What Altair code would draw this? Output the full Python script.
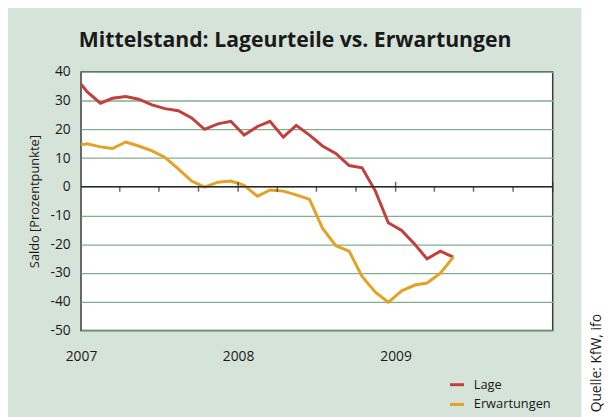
import altair as alt
import pandas as pd

# ---- data ----
months = ["2006-12", "2007-01", "2007-02", "2007-03", "2007-04", "2007-05", "2007-06",
          "2007-07", "2007-08", "2007-09", "2007-10", "2007-11", "2007-12",
          "2008-01", "2008-02", "2008-03", "2008-04", "2008-05", "2008-06",
          "2008-07", "2008-08", "2008-09", "2008-10", "2008-11", "2008-12",
          "2009-01", "2009-02", "2009-03", "2009-04", "2009-05"]
lage = [38.9, 33.1, 29.1, 30.8, 31.4, 30.5, 28.5, 27.2, 26.5, 24.0, 20.0, 21.9, 22.8,
        18.0, 21.0, 22.8, 17.3, 21.4, 18.0, 14.2, 11.6, 7.4, 6.6, -1.5, -12.5,
        -15.2, -20.1, -25.1, -22.4, -24.5]
erwartungen = [14.2, 15.0, 13.9, 13.3, 15.6, 14.2, 12.5, 10.2, 6.2, 2.0, -0.1, 1.6, 2.0,
               0.5, -3.3, -1.1, -1.5, -2.8, -4.4, -14.4, -20.5, -22.4, -31.2, -36.7, -40.2,
               -36.2, -34.2, -33.5, -30.1, -24.5]
series_names = ["Lage", "Erwartungen"]
series_colors = ["#c23f3c", "#e4a224"]
year_labels = [2007, 2008, 2009]
minor_ticks = ["2007-04-01", "2007-07-01", "2007-10-01", "2008-04-01", "2008-07-01",
               "2008-10-01", "2009-04-01", "2009-07-01", "2009-10-01"]
major_ticks = ["2008-01-01", "2009-01-01", "2010-01-01"]
y_ticks = [-50, -40, -30, -20, -10, 0, 10, 20, 30, 40]
title_text = "Mittelstand: Lageurteile vs. Erwartungen"
source_text = "Quelle: KfW, ifo"

FONT = "Open Sans"
BG = "#d6e3d9"
TXT = "#1a1a1a"

dates = [m + "-15T00:00" for m in months]
df_lage = pd.DataFrame({"date": dates, "value": lage, "series": "Lage"})
df_erw = pd.DataFrame({"date": dates, "value": erwartungen, "series": "Erwartungen"})
df_minor = pd.DataFrame({"date": [d + "T00:00" for d in minor_ticks], "value": 0})
df_major = pd.DataFrame({"date": [d + "T00:00" for d in major_ticks], "value": 0})
df_zero = pd.DataFrame({"date": ["2008-01-01T00:00"], "value": [0]})

x_scale = alt.Scale(domain=[alt.DateTime(year=2007, month=1, date=1),
                            alt.DateTime(year=2010, month=1, date=1)])
y_scale = alt.Scale(domain=[-50, 40], nice=False)

x_axis = alt.Axis(values=[alt.DateTime(year=y, month=1, date=1) for y in year_labels],
                  format="%Y", ticks=False, domain=False, grid=False,
                  labelPadding=19, labelFontSize=14, labelColor=TXT,
                  labelFont=FONT, title=None, labelFlush=False)
y_axis = alt.Axis(values=y_ticks, ticks=False, domain=False, grid=True,
                  gridColor="#80af8e", gridWidth=1.3,
                  labelFontSize=14, labelFont=FONT, labelColor=TXT,
                  labelPadding=11, labelOverlap=False,
                  labelExpr="toString(datum.value)",
                  title="Saldo [Prozentpunkte]", titleFont=FONT,
                  titleFontSize=13, titleFontWeight="normal",
                  titleColor=TXT, titlePadding=9)
x_enc = alt.X("date:T", scale=x_scale, axis=x_axis)
y_enc = alt.Y("value:Q", scale=y_scale, axis=y_axis)

color_enc = alt.Color("series:N",
                      scale=alt.Scale(domain=series_names, range=series_colors),
                      legend=alt.Legend(title=None, orient="none", legendX=372, legendY=308,
                                        symbolType="stroke", symbolSize=200,
                                        symbolStrokeWidth=3, labelFont=FONT,
                                        labelFontSize=13, labelColor=TXT,
                                        rowPadding=4, labelOffset=8))

line_lage = alt.Chart(df_lage).mark_line(strokeWidth=3, clip=True).encode(
    x=x_enc, y=y_enc, color=color_enc)
line_erw = alt.Chart(df_erw).mark_line(strokeWidth=3, clip=True).encode(
    x=x_enc, y=y_enc, color=color_enc)
zero = alt.Chart(df_zero).mark_rule(color="#2b2b2b", strokeWidth=1.5).encode(y=y_enc)
minor = alt.Chart(df_minor).mark_tick(orient="vertical", size=5, thickness=1.5,
                                      color="#2b2b2b", yOffset=2.5).encode(
    x=x_enc, y=y_enc)
major = alt.Chart(df_major).mark_tick(orient="vertical", size=10, thickness=1.5,
                                      color="#2b2b2b").encode(
    x=x_enc, y=y_enc)

white_strip = alt.Chart(df_zero).mark_rect(color="white").encode(
    x=alt.value(507), x2=alt.value(560), y=alt.value(-70), y2=alt.value(360))
source = alt.Chart(df_zero).mark_text(text=source_text, angle=270, align="left",
                                      baseline="middle", font=FONT, fontSize=14,
                                      color=TXT).encode(
    x=alt.value(523), y=alt.value(345))
title = alt.Chart(df_zero).mark_text(text=title_text, align="center", baseline="middle",
                                     font=FONT, fontSize=21.5, fontWeight="bold",
                                     color=TXT).encode(
    x=alt.value(217), y=alt.value(-31))

chart = alt.layer(line_lage, line_erw, zero, minor, major, white_strip, source, title).properties(
    width=478, height=262,
    autosize=alt.AutoSizeParams(type="none"),
    padding={"left": 74, "top": 62, "right": 53, "bottom": 85},
    background=BG,
).configure_view(fill="white", stroke="#3a3a3a", strokeWidth=1.5)

chart.save("out.html", embed_options={"renderer": "svg", "actions": False})
